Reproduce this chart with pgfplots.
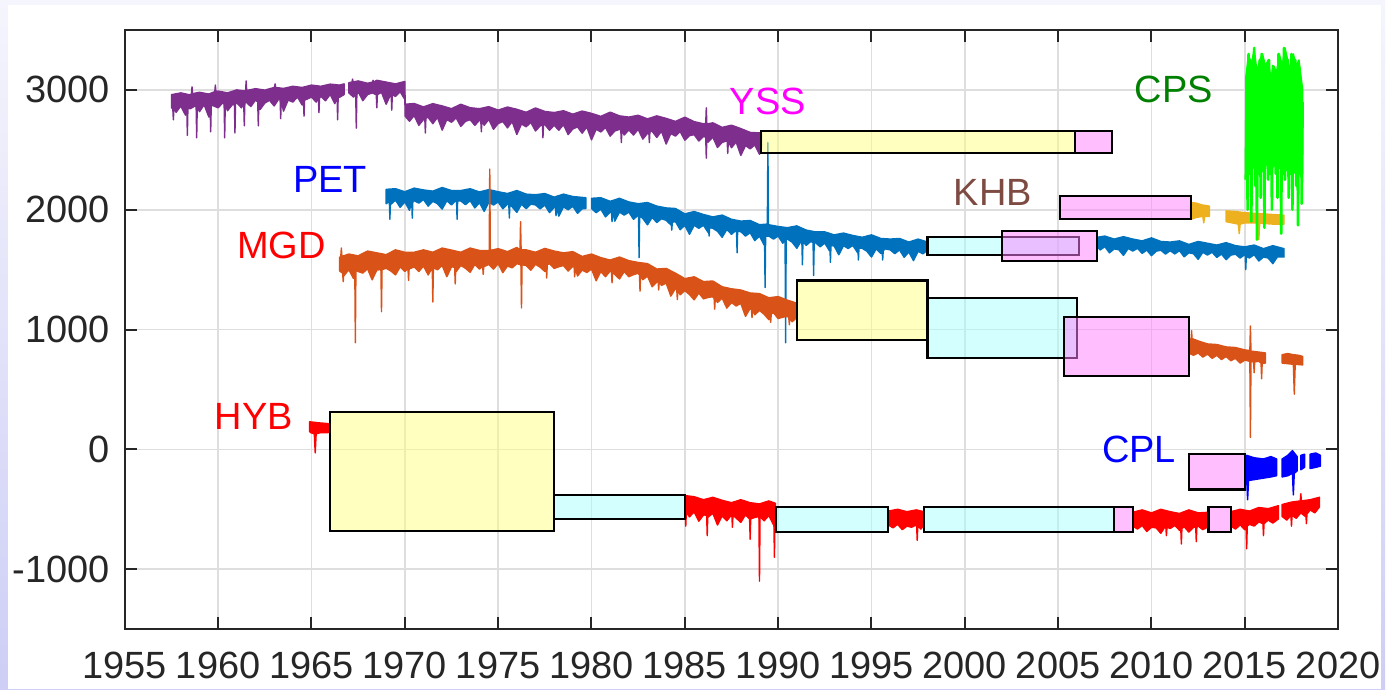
\documentclass[border=0pt]{standalone}
\usepackage{fontspec}
\setmainfont{Liberation Sans}
\usepackage{pgfplots}
\usepackage{pgfplotstable}
\pgfplotsset{compat=1.18}
\definecolor{mpurple}{RGB}{126,47,142}
\definecolor{mblue}{RGB}{0,114,189}
\definecolor{morange}{RGB}{217,83,25}
\definecolor{myellow}{RGB}{237,177,32}
\definecolor{cpsgreen}{RGB}{0,255,0}
\definecolor{cpslabel}{RGB}{0,128,0}
\definecolor{khblabel}{RGB}{125,75,65}
\definecolor{tickgray}{RGB}{38,38,38}
\definecolor{bgA}{RGB}{245,245,253}
\definecolor{bgB}{RGB}{206,206,246}
\definecolor{boxyellow}{RGB}{255,255,128}
\definecolor{boxpink}{RGB}{255,128,255}
\definecolor{boxcyan}{RGB}{170,255,255}
\definecolor{pureblue}{RGB}{0,0,255}
\definecolor{purered}{RGB}{255,0,0}
\definecolor{puremagenta}{RGB}{255,0,255}

\pgfplotstableread{
x y
2015.05 2250
2015.10 3100
2015.15 2000
2015.20 3300
2015.25 2300
2015.30 3250
2015.35 1900
2015.40 3150
2015.45 2400
2015.50 3350
2015.55 2200
2015.60 3200
2015.65 1750
2015.70 3100
2015.75 2300
2015.80 3250
2015.85 2100
2015.90 3300
2015.95 2350
2016.00 3150
2016.05 1850
2016.10 3200
2016.15 2400
2016.20 3050
2016.25 2250
2016.30 3250
2016.35 2300
2016.40 3100
2016.45 2000
2016.50 3200
2016.55 2400
2016.60 3000
2016.65 2300
2016.70 3150
2016.75 2100
2016.80 3300
2016.85 2350
2016.90 3250
2016.95 1800
2017.00 3200
2017.05 2300
2017.10 3350
2017.15 2250
2017.20 3100
2017.25 2400
2017.30 3250
2017.35 2100
2017.40 3150
2017.45 2300
2017.50 3300
2017.55 2000
2017.60 3200
2017.65 2350
2017.70 3250
2017.75 2200
2017.80 3100
2017.85 1870
2017.90 3200
2017.95 2300
2018.00 3050
2018.05 2050
2018.10 2900
}\cpsdata

\begin{document}
\begin{tikzpicture}
\fill[top color=bgA, bottom color=bgB] (0pt,0pt) rectangle (693.5pt,345pt);
\fill[white] (4pt,0pt) rectangle (691.5pt,342.5pt);
\begin{axis}[
  at={(62.5pt,30pt)}, anchor=south west,
  width=607.5pt, height=300pt, scale only axis,
  xmin=1955, xmax=2020, ymin=-1500, ymax=3500,
  xtick={1955,1960,...,2020},
  ytick={-1000,0,1000,2000,3000},
  grid=major,
  grid style={color=black!13, line width=0.8pt},
  tick align=inside,
  major tick length=6pt,
  axis line style={color=tickgray, line width=1pt},
  every tick/.style={color=tickgray, line width=1pt},
  tick label style={font=\fontsize{19}{22}\selectfont, text=tickgray},
  /pgf/number format/assume math mode=true,
  /pgf/number format/1000 sep={},
  xticklabel style={yshift=-7.7pt},
  yticklabel style={xshift=-3.9pt},
  every axis plot/.append style={mark=none, line join=round},
  band/.style={fill=#1, draw=#1, line width=0.7pt, line join=round},
]
% ---------- YSS (purple)
\addplot[band=mpurple] coordinates {
(1957.50,2960) (1958.00,2975) (1958.50,2958) (1958.57,2968) (1958.60,3025) (1958.63,2968) (1959.00,2980)
(1959.50,2965) (1959.82,2985) (1959.85,3040) (1959.88,2985) (1960.00,2990) (1960.50,2975) (1961.00,3000)
(1961.47,2990) (1961.50,3075) (1961.53,2995) (1962.00,3010) (1962.50,2998) (1963.00,3020) (1963.02,3025)
(1963.05,3050) (1963.08,3020) (1963.50,3012) (1964.00,3030) (1964.50,3020) (1965.00,3040) (1965.50,3030)
(1966.00,3048) (1966.50,3040) (1966.75,3050)
(1966.75,2961) (1966.50,2938) (1966.43,2945) (1966.40,2750) (1966.37,2945) (1966.25,2885) (1966.00,2962)
(1965.75,2909) (1965.50,2946) (1965.43,2930) (1965.40,2810) (1965.37,2930) (1965.25,2898) (1965.00,2940)
(1964.75,2922) (1964.63,2915) (1964.60,2780) (1964.57,2915) (1964.50,2874) (1964.25,2941) (1964.00,2898)
(1963.75,2915) (1963.50,2822) (1963.38,2915) (1963.35,2760) (1963.32,2915) (1963.25,2924) (1963.00,2866)
(1962.75,2913) (1962.50,2890) (1962.25,2837) (1962.18,2900) (1962.15,2700) (1962.12,2900) (1962.00,2914)
(1961.75,2861) (1961.50,2898) (1961.43,2890) (1961.40,2700) (1961.37,2890) (1961.25,2850) (1961.00,2892)
(1960.93,2885) (1960.90,2640) (1960.87,2885) (1960.75,2874) (1960.50,2826) (1960.38,2880) (1960.35,2600)
(1960.32,2880) (1960.25,2893) (1960.00,2850) (1959.75,2867) (1959.63,2870) (1959.60,2650) (1959.57,2870)
(1959.50,2774) (1959.25,2876) (1959.00,2818) (1958.88,2860) (1958.85,2600) (1958.82,2860) (1958.75,2865)
(1958.50,2842) (1958.38,2850) (1958.35,2620) (1958.32,2850) (1958.25,2789) (1958.00,2866) (1957.75,2813)
(1957.63,2845) (1957.60,2750) (1957.57,2845) (1957.50,2850)} --cycle;
\addplot[band=mpurple] coordinates {
(1967.00,3060) (1967.17,3065) (1967.20,3090) (1967.23,3065) (1967.50,3075) (1968.00,3055) (1968.27,3065)
(1968.30,3080) (1968.33,3065) (1968.50,3080) (1969.00,3065) (1969.50,3050) (1970.00,3070) (1970.02,2880)
(1970.50,2886) (1971.00,2858) (1971.50,2885) (1972.00,2866) (1972.50,2843) (1973.00,2880) (1973.50,2851)
(1974.00,2843) (1974.50,2860) (1975.00,2831) (1975.50,2857) (1976.00,2838) (1976.50,2813) (1977.00,2849)
(1977.50,2820) (1978.00,2811) (1978.50,2826) (1979.00,2797) (1979.50,2823) (1980.00,2804) (1980.50,2779)
(1981.00,2814) (1981.50,2783) (1982.00,2773) (1982.50,2788) (1983.00,2758) (1983.50,2783) (1984.00,2762)
(1984.50,2737) (1985.00,2772) (1985.50,2735) (1986.00,2717) (1986.12,2720) (1986.15,2850) (1986.18,2715)
(1986.50,2725) (1987.00,2687) (1987.50,2705) (1988.00,2677) (1988.50,2645) (1989.10,2640)
(1989.10,2520) (1989.00,2463) (1988.75,2541) (1988.50,2508) (1988.25,2535) (1988.00,2453) (1987.75,2565)
(1987.50,2517) (1987.33,2570) (1987.30,2470) (1987.27,2570) (1987.25,2574) (1987.00,2562) (1986.75,2519)
(1986.50,2606) (1986.25,2564) (1986.18,2605) (1986.15,2430) (1986.12,2605) (1986.00,2611) (1985.75,2573)
(1985.50,2626) (1985.25,2618) (1985.00,2580) (1984.75,2652) (1984.50,2614) (1984.25,2636) (1984.00,2548)
(1983.75,2655) (1983.50,2603) (1983.25,2655) (1983.13,2650) (1983.10,2560) (1983.07,2650) (1983.00,2637)
(1982.75,2589) (1982.50,2671) (1982.25,2623) (1982.00,2666) (1981.75,2623) (1981.63,2665) (1981.60,2560)
(1981.57,2665) (1981.50,2670) (1981.25,2657) (1981.00,2614) (1980.75,2686) (1980.50,2649) (1980.25,2671)
(1980.00,2583) (1979.75,2691) (1979.50,2639) (1979.25,2691) (1979.00,2674) (1978.75,2627) (1978.50,2710)
(1978.25,2663) (1978.00,2705) (1977.75,2663) (1977.50,2711) (1977.43,2710) (1977.40,2600) (1977.37,2710)
(1977.25,2699) (1977.00,2657) (1976.75,2729) (1976.50,2692) (1976.25,2715) (1976.00,2628) (1975.75,2736)
(1975.50,2683) (1975.25,2736) (1975.00,2719) (1974.75,2671) (1974.50,2753) (1974.25,2705) (1974.13,2740)
(1974.10,2650) (1974.07,2740) (1974.00,2747) (1973.75,2704) (1973.50,2751) (1973.25,2738) (1973.00,2695)
(1972.75,2767) (1972.50,2730) (1972.25,2752) (1972.00,2664) (1971.75,2771) (1971.50,2718) (1971.25,2770)
(1971.13,2765) (1971.10,2640) (1971.07,2765) (1971.00,2752) (1970.75,2704) (1970.50,2786) (1970.25,2738)
(1970.02,2780) (1970.00,2920) (1969.75,2985) (1969.50,2945) (1969.33,2960) (1969.30,2830) (1969.27,2960)
(1969.25,2965) (1969.00,2880) (1968.75,2980) (1968.53,2960) (1968.50,2850) (1968.47,2960) (1968.25,2975)
(1968.00,2960) (1967.75,2910) (1967.50,2985) (1967.43,2960) (1967.40,2680) (1967.37,2960) (1967.25,2940)
(1967.00,2975)} --cycle;
% ---------- PET (blue)
\addplot[band=mblue] coordinates {
(1969.00,2170) (1969.50,2175) (1970.00,2150) (1970.50,2180) (1971.00,2165) (1971.50,2155) (1972.00,2185)
(1972.50,2160) (1973.00,2160) (1973.50,2175) (1974.00,2148) (1974.50,2168) (1975.00,2150) (1975.50,2135)
(1976.00,2160) (1976.50,2130) (1977.00,2125) (1977.50,2135) (1978.00,2105) (1978.50,2130) (1979.00,2110)
(1979.70,2100)
(1979.70,2010) (1979.50,2007) (1979.25,1970) (1979.00,2028) (1978.75,2000) (1978.50,2023) (1978.25,1946)
(1978.13,2020) (1978.10,1950) (1978.07,2020) (1978.00,2019) (1977.75,1976) (1977.50,2039) (1977.25,2007)
(1977.00,2040) (1976.75,2047) (1976.50,2009) (1976.25,2046) (1976.00,1978) (1975.75,2024) (1975.63,2045)
(1975.60,1930) (1975.57,2045) (1975.50,2046) (1975.25,2008) (1975.00,2065) (1974.75,2039) (1974.50,2063)
(1974.25,1986) (1974.00,2059) (1973.75,2015) (1973.50,2076) (1973.25,2042) (1973.00,2073) (1972.83,2075)
(1972.80,1920) (1972.77,2075) (1972.75,2080) (1972.50,2040) (1972.25,2075) (1972.00,2005) (1971.75,2050)
(1971.50,2070) (1971.25,2030) (1971.00,2085) (1970.75,2055) (1970.50,2075) (1970.43,2070) (1970.40,1930)
(1970.37,2070) (1970.25,1995) (1970.00,2065) (1969.75,2020) (1969.50,2080) (1969.25,2045) (1969.23,2070)
(1969.20,1920) (1969.17,2070) (1969.00,2050)} --cycle;
\addplot[band=mblue] coordinates {
(1980.00,2095) (1980.50,2100) (1981.00,2070) (1981.50,2095) (1982.00,2065) (1982.50,2050) (1983.00,2060)
(1983.50,2030) (1984.00,2015) (1984.50,2010) (1985.00,1965) (1985.50,1985) (1986.00,1960) (1986.50,1940)
(1987.00,1955) (1987.50,1920) (1988.00,1905) (1988.50,1910) (1989.00,1875) (1989.42,1880) (1989.45,2560)
(1989.48,1875) (1990.00,1860) (1990.50,1850) (1991.00,1865) (1991.50,1830) (1992.00,1815) (1992.50,1815)
(1993.00,1790) (1993.50,1805) (1994.00,1785) (1994.50,1770) (1995.00,1790) (1995.50,1760) (1996.00,1755)
(1996.50,1760) (1997.00,1730) (1997.50,1755) (1998.00,1730)
(1998.00,1660) (1997.75,1632) (1997.50,1653) (1997.25,1575) (1997.00,1647) (1996.75,1603) (1996.50,1665)
(1996.25,1633) (1996.00,1665) (1995.75,1673) (1995.63,1660) (1995.60,1580) (1995.57,1660) (1995.50,1635)
(1995.25,1673) (1995.00,1605) (1994.75,1654) (1994.50,1678) (1994.33,1680) (1994.30,1580) (1994.27,1680)
(1994.25,1643) (1994.00,1702) (1993.75,1676) (1993.50,1700) (1993.25,1624) (1993.00,1698) (1992.83,1700)
(1992.80,1560) (1992.77,1700) (1992.75,1657) (1992.50,1722) (1992.25,1691) (1992.00,1725) (1991.93,1725)
(1991.90,1450) (1991.87,1725) (1991.75,1736) (1991.50,1702) (1991.33,1735) (1991.30,1540) (1991.27,1735)
(1991.25,1742) (1991.00,1678) (1990.75,1729) (1990.50,1755) (1990.43,1755) (1990.40,890) (1990.37,1755)
(1990.25,1720) (1990.00,1780) (1989.75,1755) (1989.50,1780) (1989.33,1780) (1989.30,1350) (1989.27,1780)
(1989.25,1705) (1989.00,1780) (1988.75,1742) (1988.50,1808) (1988.25,1780) (1988.00,1817) (1987.83,1820)
(1987.80,1640) (1987.77,1820) (1987.75,1828) (1987.50,1795) (1987.25,1835) (1987.00,1770) (1986.75,1820)
(1986.50,1845) (1986.33,1850) (1986.30,1780) (1986.27,1850) (1986.25,1810) (1986.00,1870) (1985.75,1845)
(1985.50,1870) (1985.25,1795) (1985.00,1870) (1984.75,1833) (1984.50,1901) (1984.33,1895) (1984.30,1830)
(1984.27,1895) (1984.25,1874) (1984.00,1912) (1983.75,1925) (1983.50,1893) (1983.25,1936) (1983.00,1874)
(1982.75,1927) (1982.58,1950) (1982.55,1600) (1982.52,1950) (1982.50,1955) (1982.25,1920) (1982.00,1980)
(1981.75,1955) (1981.50,1980) (1981.25,1905) (1981.13,1980) (1981.10,1900) (1981.07,1980) (1981.00,1980)
(1980.75,1940) (1980.50,2005) (1980.25,1975) (1980.00,2010)} --cycle;
\addplot[band=mblue] coordinates {
(2007.10,1770) (2007.50,1780) (2008.00,1755) (2008.50,1775) (2009.00,1755) (2009.50,1740) (2010.00,1765)
(2010.50,1735) (2011.00,1730) (2011.50,1740) (2012.00,1710) (2012.50,1735) (2013.00,1720) (2013.50,1705)
(2014.00,1725) (2014.50,1700) (2015.00,1690) (2015.50,1705) (2016.00,1675) (2016.50,1700) (2017.10,1675)
(2017.10,1605) (2016.75,1607) (2016.50,1550) (2016.25,1597) (2016.00,1605) (2015.75,1572) (2015.50,1625)
(2015.25,1597) (2015.08,1610) (2015.05,1500) (2015.02,1615) (2015.00,1625) (2014.75,1597) (2014.50,1629)
(2014.25,1621) (2014.00,1583) (2013.75,1630) (2013.50,1602) (2013.25,1645) (2013.00,1622) (2012.75,1644)
(2012.50,1586) (2012.25,1633) (2012.00,1640) (2011.75,1607) (2011.50,1659) (2011.25,1631) (2011.00,1658)
(2010.75,1630) (2010.50,1662) (2010.25,1654) (2010.00,1616) (2009.75,1663) (2009.50,1636) (2009.25,1678)
(2009.00,1655) (2008.75,1677) (2008.50,1619) (2008.25,1666) (2008.00,1673) (2007.75,1640) (2007.50,1692)
(2007.25,1664) (2007.10,1690)} --cycle;
% ---------- MGD (orange)
\addplot[band=morange] coordinates {
(1966.50,1600) (1966.57,1610) (1966.60,1680) (1966.63,1610) (1967.00,1630) (1967.50,1615) (1968.00,1655)
(1968.50,1640) (1969.00,1625) (1969.50,1665) (1970.00,1645) (1970.50,1645) (1971.00,1665) (1971.50,1645)
(1972.00,1680) (1972.50,1663) (1973.00,1645) (1973.50,1680) (1974.00,1660) (1974.52,1660) (1974.55,2340)
(1974.58,1660) (1975.00,1675) (1975.50,1650) (1976.00,1685) (1976.17,1665) (1976.20,1900) (1976.23,1665)
(1976.50,1665) (1977.00,1645) (1977.50,1677) (1978.00,1655) (1978.50,1640) (1979.00,1650) (1979.50,1610)
(1980.00,1630) (1980.50,1600) (1981.00,1580) (1981.50,1605) (1982.00,1575) (1982.50,1560) (1983.00,1550)
(1983.50,1505) (1984.00,1510) (1984.50,1470) (1985.00,1425) (1985.50,1440) (1986.00,1400) (1986.50,1405)
(1987.00,1357) (1987.50,1340) (1988.00,1330) (1988.50,1305) (1989.00,1300) (1989.50,1265) (1990.00,1275)
(1990.50,1245) (1991.00,1220)
(1991.00,1100) (1990.75,1065) (1990.63,1100) (1990.60,1040) (1990.57,1100) (1990.50,1110) (1990.25,1103)
(1990.00,1092) (1989.75,1140) (1989.63,1130) (1989.60,1060) (1989.57,1130) (1989.50,1083) (1989.25,1127)
(1989.00,1160) (1988.75,1123) (1988.63,1165) (1988.60,1100) (1988.57,1165) (1988.50,1177) (1988.25,1110)
(1988.00,1218) (1987.75,1197) (1987.50,1225) (1987.25,1179) (1987.00,1262) (1986.75,1226) (1986.63,1260)
(1986.60,1170) (1986.57,1260) (1986.50,1274) (1986.25,1268) (1986.00,1256) (1985.75,1305) (1985.50,1248)
(1985.25,1292) (1985.00,1325) (1984.75,1290) (1984.63,1330) (1984.60,1250) (1984.57,1330) (1984.50,1344)
(1984.25,1279) (1984.00,1388) (1983.75,1368) (1983.63,1400) (1983.60,1330) (1983.57,1400) (1983.50,1397)
(1983.25,1357) (1983.00,1446) (1982.75,1416) (1982.63,1450) (1982.60,1320) (1982.57,1455) (1982.50,1470)
(1982.25,1458) (1982.00,1441) (1981.75,1484) (1981.50,1422) (1981.25,1460) (1981.13,1480) (1981.10,1390)
(1981.07,1480) (1981.00,1488) (1980.75,1441) (1980.50,1484) (1980.25,1407) (1980.00,1505) (1979.75,1476)
(1979.50,1496) (1979.25,1447) (1979.13,1520) (1979.10,1440) (1979.07,1520) (1979.00,1528) (1978.75,1488)
(1978.50,1534) (1978.25,1524) (1978.00,1510) (1977.75,1550) (1977.63,1540) (1977.60,1430) (1977.57,1540)
(1977.50,1485) (1977.25,1520) (1977.00,1545) (1976.75,1495) (1976.50,1535) (1976.28,1540) (1976.25,1180)
(1976.22,1540) (1976.00,1550) (1975.75,1515) (1975.50,1530) (1975.25,1475) (1975.00,1550) (1974.75,1504)
(1974.50,1543) (1974.25,1526) (1974.23,1530) (1974.20,1460) (1974.17,1530) (1974.00,1505) (1973.75,1544)
(1973.50,1478) (1973.25,1511) (1973.00,1535) (1972.75,1484) (1972.73,1520) (1972.70,1380) (1972.67,1520)
(1972.50,1523) (1972.25,1441) (1972.00,1535) (1971.75,1499) (1971.53,1515) (1971.50,1230) (1971.47,1515)
(1971.25,1456) (1971.00,1530) (1970.75,1484) (1970.50,1523) (1970.25,1506) (1970.23,1510) (1970.20,1410)
(1970.17,1510) (1970.00,1485) (1969.75,1523) (1969.50,1456) (1969.25,1489) (1969.00,1511) (1968.78,1500)
(1968.75,1150) (1968.72,1500) (1968.50,1497) (1968.25,1415) (1968.00,1508) (1967.75,1471) (1967.50,1484)
(1967.38,1495) (1967.35,890) (1967.32,1495) (1967.25,1426) (1967.00,1499) (1966.75,1452) (1966.73,1470)
(1966.70,1400) (1966.67,1470) (1966.50,1490)} --cycle;
\addplot[band=morange] coordinates {
(2012.05,900) (2012.10,920) (2012.13,930) (2012.15,990) (2012.17,925) (2012.50,905) (2013.00,880)
(2013.50,875) (2014.00,855) (2014.50,850) (2015.00,830) (2015.27,825) (2015.30,1030) (2015.33,820)
(2015.60,815) (2016.10,805)
(2016.10,720) (2015.93,720) (2015.90,590) (2015.87,720) (2015.75,735) (2015.53,730) (2015.50,640)
(2015.47,730) (2015.33,735) (2015.30,100) (2015.27,735) (2015.00,745) (2014.75,720) (2014.50,760)
(2014.25,740) (2014.00,775) (2013.75,750) (2013.50,785) (2013.25,760) (2013.00,795) (2012.75,770)
(2012.50,805) (2012.25,785) (2012.05,800)} --cycle;
\addplot[band=morange] coordinates {
(2017.00,790) (2017.30,800) (2017.60,790) (2017.90,785) (2018.10,775)
(2018.10,705) (2017.70,710) (2017.65,460) (2017.60,710) (2017.30,715) (2017.00,720)} --cycle;
% ---------- KHB (yellow-orange)
\addplot[band=myellow] coordinates {
(2012.10,2060) (2012.40,2055) (2012.70,2040) (2013.10,2030)
(2013.10,1945) (2012.85,1945) (2012.80,1890) (2012.75,1945) (2012.40,1935) (2012.10,1920)} --cycle;
\addplot[band=myellow] coordinates {
(2014.00,1990) (2014.50,1985) (2015.00,1975) (2015.50,1970) (2016.00,1965) (2016.50,1960) (2017.10,1955)
(2017.10,1880) (2016.50,1880) (2016.00,1885) (2015.80,1890) (2015.75,1750) (2015.70,1890) (2015.00,1890)
(2014.75,1880) (2014.70,1800) (2014.65,1880) (2014.00,1900)} --cycle;
% ---------- CPS (green)
\addplot[band=cpsgreen] coordinates {
(2015.05,3100) (2015.20,3300) (2015.35,3200) (2015.50,3350) (2015.65,3150) (2015.80,3250) (2015.95,3300)
(2016.10,3200) (2016.25,3250) (2016.40,3100) (2016.55,3200) (2016.70,3150) (2016.85,3300) (2017.00,3200)
(2017.15,3350) (2017.30,3250) (2017.45,3150) (2017.60,3300) (2017.75,3200) (2017.90,3250) (2018.10,3000)
(2018.10,2300) (2017.90,2350) (2017.70,2300) (2017.50,2400) (2017.30,2350) (2017.10,2300) (2016.90,2400)
(2016.70,2350) (2016.60,2450) (2016.45,2300) (2016.25,2400) (2016.05,2350) (2015.85,2300) (2015.65,2400)
(2015.45,2350) (2015.25,2300) (2015.05,2400)} --cycle;
\addplot[color=cpsgreen, line width=1.3pt] table[x=x,y=y] {\cpsdata};
% ---------- HYB (red)
\addplot[band=purered] coordinates {
(1964.90,230) (1965.20,225) (1965.50,220) (1965.90,215)
(1965.90,140) (1965.50,140) (1965.25,130) (1965.20,-30) (1965.15,130) (1964.95,140) (1964.90,150)} --cycle;
\addplot[band=purered] coordinates {
(1985.00,-385) (1985.50,-395) (1986.00,-420) (1986.50,-400) (1987.00,-425) (1987.50,-445) (1988.00,-420)
(1988.50,-445) (1989.00,-455) (1989.50,-430) (1989.85,-450)
(1989.85,-560) (1989.83,-570) (1989.80,-900) (1989.77,-600) (1989.75,-629) (1989.50,-552) (1989.25,-596)
(1989.03,-560) (1989.00,-1100) (1988.97,-560) (1988.75,-568) (1988.53,-580) (1988.50,-750) (1988.47,-580)
(1988.25,-546) (1988.00,-609) (1987.75,-573) (1987.58,-550) (1987.55,-650) (1987.52,-550) (1987.50,-547)
(1987.25,-596) (1987.00,-555) (1986.75,-631) (1986.50,-533) (1986.25,-565) (1986.23,-550) (1986.20,-720)
(1986.17,-550) (1986.00,-547) (1985.75,-599) (1985.50,-521) (1985.25,-563) (1985.08,-525) (1985.05,-640)
(1985.02,-525) (1985.00,-520)} --cycle;
\addplot[band=purered] coordinates {
(1995.90,-515) (1996.40,-500) (1996.90,-520) (1997.40,-505) (1997.80,-520)
(1997.80,-630) (1997.65,-665) (1997.48,-640) (1997.45,-760) (1997.42,-640) (1997.40,-630) (1997.15,-650)
(1996.90,-640) (1996.65,-670) (1996.40,-625) (1996.15,-655) (1995.90,-630)} --cycle;
\addplot[band=purered] coordinates {
(2009.00,-525) (2009.50,-505) (2010.00,-530) (2010.50,-500) (2011.00,-520) (2011.50,-535) (2012.00,-505)
(2012.50,-530) (2013.05,-525)
(2013.05,-645) (2012.75,-670) (2012.50,-640) (2012.43,-650) (2012.40,-770) (2012.37,-650) (2012.25,-650)
(2012.00,-690) (2011.75,-645) (2011.63,-660) (2011.60,-790) (2011.57,-660) (2011.50,-675) (2011.25,-635)
(2011.00,-660) (2010.83,-650) (2010.80,-720) (2010.77,-650) (2010.75,-640) (2010.50,-700) (2010.25,-655)
(2010.00,-650) (2009.75,-685) (2009.50,-635) (2009.25,-665) (2009.00,-640)} --cycle;
\addplot[band=purered] coordinates {
(2014.25,-520) (2014.75,-500) (2015.25,-515) (2015.75,-485) (2016.25,-495) (2016.80,-470)
(2016.80,-580) (2016.50,-615) (2016.25,-590) (2016.03,-620) (2016.00,-720) (2015.97,-620) (2015.75,-605)
(2015.50,-640) (2015.25,-625) (2015.13,-640) (2015.10,-830) (2015.07,-640) (2015.00,-670) (2014.75,-630)
(2014.50,-665) (2014.25,-640)} --cycle;
\addplot[band=purered] coordinates {
(2017.00,-460) (2017.50,-440) (2017.97,-430) (2018.00,-370) (2018.03,-430) (2018.50,-420) (2019.00,-400)
(2019.00,-480) (2018.75,-530) (2018.50,-505) (2018.33,-540) (2018.30,-620) (2018.27,-540) (2018.25,-560)
(2018.00,-530) (2017.75,-575) (2017.53,-550) (2017.50,-640) (2017.47,-550) (2017.25,-590) (2017.00,-560)} --cycle;
% ---------- CPL (blue)
\addplot[band=pureblue] coordinates {
(2015.10,-50) (2015.50,-70) (2016.00,-80) (2016.40,-60) (2016.70,-80)
(2016.70,-220) (2016.40,-230) (2016.00,-240) (2015.60,-250) (2015.20,-260) (2015.15,-420) (2015.10,-250)} --cycle;
\addplot[band=pureblue] coordinates {
(2017.00,-80) (2017.30,-50) (2017.55,-10) (2017.80,-60)
(2017.80,-180) (2017.65,-200) (2017.60,-380) (2017.55,-200) (2017.30,-220) (2017.00,-230)} --cycle;
\addplot[band=pureblue] coordinates {(2018.00,-50) (2018.20,-40) (2018.20,-150) (2018.00,-170)} --cycle;
\addplot[band=pureblue] coordinates {(2018.50,-40) (2018.80,-30) (2019.05,-50) (2019.05,-140) (2018.80,-150) (2018.50,-160)} --cycle;
% ---------- boxes
\pgfplotsset{boxstyle/.style={draw=black, line width=1.1pt, fill opacity=0.5, draw opacity=1, line join=miter}}
\addplot[boxstyle, fill=boxyellow] coordinates {(1989.1,2470) (2005.9,2470) (2005.9,2660) (1989.1,2660)} --cycle;
\addplot[boxstyle, fill=boxpink] coordinates {(2005.9,2470) (2007.9,2470) (2007.9,2660) (2005.9,2660)} --cycle;
\addplot[boxstyle, fill=boxpink] coordinates {(2005.1,1925) (2012.1,1925) (2012.1,2115) (2005.1,2115)} --cycle;
\addplot[boxstyle, fill=boxcyan] coordinates {(1998.0,1625) (2006.1,1625) (2006.1,1775) (1998.0,1775)} --cycle;
\addplot[boxstyle, fill=boxpink] coordinates {(2002.0,1572) (2007.1,1572) (2007.1,1820) (2002.0,1820)} --cycle;
\addplot[boxstyle, fill=boxyellow] coordinates {(1991.0,910) (1998.0,910) (1998.0,1410) (1991.0,1410)} --cycle;
\addplot[boxstyle, fill=boxcyan] coordinates {(1998.0,761) (2006.0,761) (2006.0,1261) (1998.0,1261)} --cycle;
\addplot[boxstyle, fill=boxpink] coordinates {(2005.3,614) (2012.0,614) (2012.0,1108) (2005.3,1108)} --cycle;
\addplot[boxstyle, fill=boxyellow] coordinates {(1966.0,-680) (1978.0,-680) (1978.0,315) (1966.0,315)} --cycle;
\addplot[boxstyle, fill=boxcyan] coordinates {(1978.0,-580) (1985.0,-580) (1985.0,-380) (1978.0,-380)} --cycle;
\addplot[boxstyle, fill=boxcyan] coordinates {(1989.9,-690) (1995.9,-690) (1995.9,-480) (1989.9,-480)} --cycle;
\addplot[boxstyle, fill=boxcyan] coordinates {(1997.8,-690) (2008.0,-690) (2008.0,-480) (1997.8,-480)} --cycle;
\addplot[boxstyle, fill=boxpink] coordinates {(2008.0,-690) (2009.0,-690) (2009.0,-480) (2008.0,-480)} --cycle;
\addplot[boxstyle, fill=boxpink] coordinates {(2013.05,-690) (2014.25,-690) (2014.25,-480) (2013.05,-480)} --cycle;
\addplot[boxstyle, fill=boxpink] coordinates {(2012.0,-335) (2015.0,-335) (2015.0,-40) (2012.0,-40)} --cycle;
% ---------- labels
\begin{scope}[every node/.style={font=\fontsize{19}{22}\selectfont, inner sep=0pt}]
\node[text=puremagenta] at (axis cs:1989.45,2900) {YSS};
\node[text=cpslabel] at (axis cs:2011.2,3000) {CPS};
\node[text=pureblue] at (axis cs:1966.0,2250) {PET};
\node[text=khblabel] at (axis cs:2001.5,2145) {KHB};
\node[text=purered] at (axis cs:1963.4,1700) {MGD};
\node[text=purered] at (axis cs:1961.9,272) {HYB};
\node[text=pureblue] at (axis cs:2009.33,0) {CPL};
\end{scope}
\end{axis}
\end{tikzpicture}
\end{document}
